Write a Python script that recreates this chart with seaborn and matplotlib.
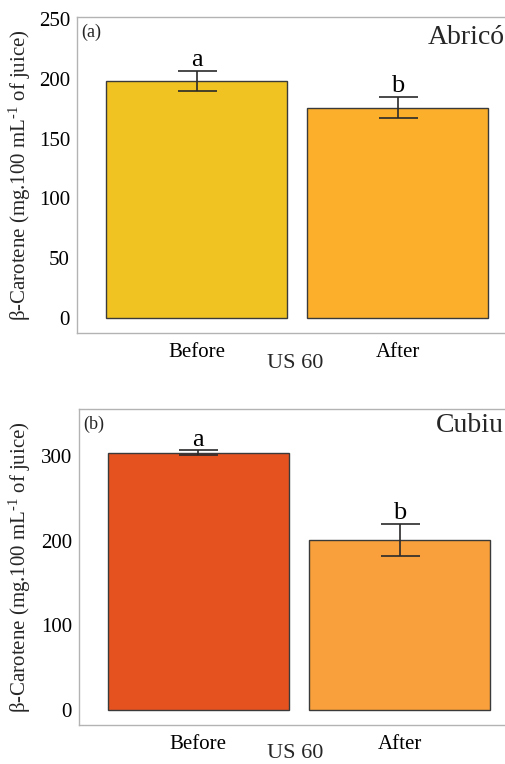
import matplotlib
matplotlib.use("Agg")
import matplotlib.pyplot as plt
import seaborn as sns
import pandas as pd

# ---- data ----
stages = ["Before", "After"]
abrico_mean = [198, 176]
abrico_sd = [8.5, 9]
cubiu_mean = [304, 201]
cubiu_sd = [2.5, 19]
letters = ["a", "b"]
panel_tags = ["(a)", "(b)"]
fruit_names = ["Abricó", "Cubiu"]
abrico_colors = ["#F0C323", "#FCAF2B"]
cubiu_colors = ["#E55220", "#F99F3B"]
abrico_yticks = [0, 50, 100, 150, 200, 250]
cubiu_yticks = [0, 100, 200, 300]
xlabel = "US 60"
ylabel = r"β-Carotene (mg.100 mL$^{\text{-1}}$ of juice)"

sns.set_theme(style="white")
plt.rcParams["font.family"] = ["Liberation Serif", "DejaVu Serif"]
plt.rcParams["mathtext.fontset"] = "custom"
plt.rcParams["mathtext.rm"] = "Liberation Serif"
plt.rcParams["mathtext.it"] = "Liberation Serif:italic"
plt.rcParams["mathtext.bf"] = "Liberation Serif:bold"

fig = plt.figure(figsize=(5.05, 7.64), dpi=100)
W, H = 505, 764

def px_axes(left, top, right, bottom):
    return fig.add_axes([left / W, 1 - bottom / H, (right - left) / W, (bottom - top) / H])

panels = [
    dict(ax=px_axes(77, 17, 518.5, 333), mean=abrico_mean, sd=abrico_sd, colors=abrico_colors,
         ylim=(-12.5, 251.7), yticks=abrico_yticks, tag=panel_tags[0], name=fruit_names[0],
         xr=(-0.594, 1.6), xlab_y=364, name_x=428, name_y=37),
    dict(ax=px_axes(79, 409, 520.5, 725), mean=cubiu_mean, sd=cubiu_sd, colors=cubiu_colors,
         ylim=(-17.7, 355.5), yticks=cubiu_yticks, tag=panel_tags[1], name=fruit_names[1],
         xr=(-0.592, 1.6), xlab_y=754, name_x=436, name_y=425),
]

for p in panels:
    ax = p["ax"]
    bb = ax.get_position()
    axl, axt = bb.x0 * W, (1 - bb.y1) * H
    axw, axh = bb.width * W, bb.height * H
    df = pd.DataFrame({"stage": stages, "mean": p["mean"], "sd": p["sd"]})
    sns.barplot(data=df, x="stage", y="mean", hue="stage", order=stages, hue_order=stages,
                palette=p["colors"], width=0.9, edgecolor="#3a3a3a", linewidth=1.0,
                saturation=1, errorbar=None, legend=False, ax=ax)
    xs = list(range(len(stages)))
    ax.errorbar(xs, df["mean"], yerr=df["sd"], fmt="none", ecolor="#2a2a2a",
                elinewidth=1.2, capsize=19.5 * 0.72, capthick=1.2, zorder=5)
    for x, m, s, l in zip(xs, df["mean"], df["sd"], letters):
        ax.annotate(l, (x, m + s), xytext=(0, 3.5), textcoords="offset points",
                    ha="center", va="baseline", fontsize=19, color="black")
    ax.set_xlim(*p["xr"])
    ax.set_ylim(*p["ylim"])
    ax.set_yticks(p["yticks"])
    ax.set_yticklabels([str(t) for t in p["yticks"]], fontsize=15)
    ax.set_xticks(xs)
    ax.set_xticklabels(stages, fontsize=15)
    ax.tick_params(axis="x", length=0, pad=7, colors="black")
    ax.tick_params(axis="y", length=3, width=0.8, color="#b3b3b3", pad=2, labelcolor="black")
    for sp in ax.spines.values():
        sp.set_color("#b3b3b3")
        sp.set_linewidth(1.0)
    ax.set_xlabel(xlabel, fontsize=16)
    ax.xaxis.set_label_coords((295 - axl) / axw, -(p["xlab_y"] - (axt + axh)) / axh)
    ax.xaxis.label.set_va("center")
    ax.set_ylabel(ylabel, fontsize=15)
    ax.yaxis.set_label_coords((20 - axl) / axw, 0.5)
    ax.yaxis.label.set_va("center")
    ax.text(0.009, 0.953, p["tag"], transform=ax.transAxes, ha="left", va="center", fontsize=13)
    ax.text((p["name_x"] - axl) / axw, (axt + axh - p["name_y"]) / axh, p["name"],
            transform=ax.transAxes, ha="left", va="center", fontsize=20)
    ax.grid(False)

fig.savefig("out.png", dpi=100)
